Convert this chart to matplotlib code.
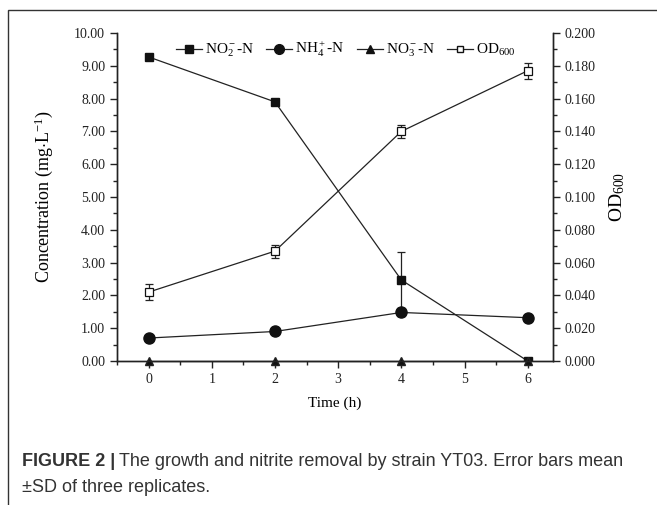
import numpy as np
import matplotlib.pyplot as plt
from matplotlib.patches import Rectangle
from matplotlib.ticker import MultipleLocator, FormatStrFormatter

plt.rcParams['font.family'] = 'Liberation Serif'
plt.rcParams['mathtext.fontset'] = 'custom'
plt.rcParams['mathtext.rm'] = 'Liberation Serif'
plt.rcParams['mathtext.it'] = 'Liberation Serif:italic'

time = [0, 2, 4, 6]
no2 = [9.27, 7.90, 2.47, 0.00]
no2_sd = [0.05, 0.10, 0.85, 0.00]
nh4 = [0.70, 0.90, 1.48, 1.32]
nh4_sd = [0.04, 0.03, 0.10, 0.03]
no3 = [0.0, 0.0, 0.0, 0.0]
od = [0.042, 0.067, 0.140, 0.177]
od_sd = [0.005, 0.004, 0.004, 0.005]

fig = plt.figure(figsize=(6.57, 5.05), dpi=100)
ax = fig.add_axes([117/657, 1-361/505, 436/657, 328/505])
ax2 = ax.twinx()

lc = '#222222'
kw = dict(color=lc, lw=0.9, capsize=3, elinewidth=0.9, capthick=0.9)
ax.errorbar(time, no2, yerr=no2_sd, marker='s', ms=6, mfc='#111111', mec='#111111', **kw)
ax.errorbar(time, nh4, yerr=nh4_sd, marker='o', ms=8, mfc='#111111', mec='#111111', **kw)
ax.plot(time, no3, marker='^', ms=6, color=lc, mfc='#111111', lw=0.9, clip_on=False, zorder=5)
ax2.errorbar(time, od, yerr=od_sd, marker='s', ms=6, mfc='white', mec='#111111', mew=0.9, **kw)

ax.set_xlim(-0.5, 6.4)
ax.set_ylim(0, 10)
ax2.set_ylim(0, 0.2)

ax.xaxis.set_major_locator(MultipleLocator(1))
ax.xaxis.set_minor_locator(MultipleLocator(0.5))
ax.yaxis.set_major_locator(MultipleLocator(1))
ax.yaxis.set_minor_locator(MultipleLocator(0.5))
ax.yaxis.set_major_formatter(FormatStrFormatter('%.2f'))
ax2.yaxis.set_major_locator(MultipleLocator(0.02))
ax2.yaxis.set_minor_locator(MultipleLocator(0.01))
ax2.yaxis.set_major_formatter(FormatStrFormatter('%.3f'))

for a in (ax, ax2):
    a.spines['top'].set_visible(False)
    for s in a.spines.values():
        s.set_linewidth(1.0)
        s.set_color('#222222')
    a.tick_params(which='major', direction='out', length=5, width=1.0, labelsize=10, colors='#222222')
    a.tick_params(which='minor', direction='out', length=3, width=1.0, colors='#222222')

ax.set_xlabel('Time (h)', fontsize=11, labelpad=8)
ax.set_ylabel(r'Concentration (mg$\cdot$L$^{\mathregular{-1}}$)', fontsize=13, labelpad=14)
ax2.set_ylabel(r'OD$_{\mathregular{600}}$', fontsize=14, labelpad=8)

h_no2 = plt.Line2D([], [], color=lc, lw=0.9, marker='s', ms=6, mfc='#111111', mec='#111111')
h_nh4 = plt.Line2D([], [], color=lc, lw=0.9, marker='o', ms=7, mfc='#111111', mec='#111111')
h_no3 = plt.Line2D([], [], color=lc, lw=0.9, marker='^', ms=6, mfc='#111111', mec='#111111')
h_od = plt.Line2D([], [], color=lc, lw=0.9, marker='s', ms=5, mfc='white', mec='#111111')
ax.legend([h_no2, h_nh4, h_no3, h_od],
          [r'NO$_2^-$-N', r'NH$_4^+$-N', r'NO$_3^-$-N', r'OD$_{600}$'],
          loc='upper center', bbox_to_anchor=(0.525, 1.02), ncol=4, frameon=False,
          fontsize=11, handlelength=1.7, handletextpad=0.2, columnspacing=0.8)

# outer frame
fig.patches.append(Rectangle((8/657, -0.05), 1.1, 1 - 10/505 + 0.05, transform=fig.transFigure,
                             fill=False, lw=1.0, ec='#333333'))

cap_font = ['Liberation Sans', 'DejaVu Sans']
cap_size = 13
bold = fig.text(22/657, 1-462/505, 'FIGURE 2 |', fontsize=cap_size, fontweight='bold',
                family=cap_font, color='#333333', va='center')
r = fig.canvas.get_renderer()
bb = bold.get_window_extent(renderer=r)
fig.text(bb.x1/657 + 4/657, 1-462/505, 'The growth and nitrite removal by strain YT03. Error bars mean',
         fontsize=cap_size, family=cap_font, color='#333333', va='center')
fig.text(22/657, 1-488/505, '\u00b1SD of three replicates.', fontsize=cap_size,
         family=cap_font, color='#333333', va='center')

fig.savefig('out.png', dpi=100)
